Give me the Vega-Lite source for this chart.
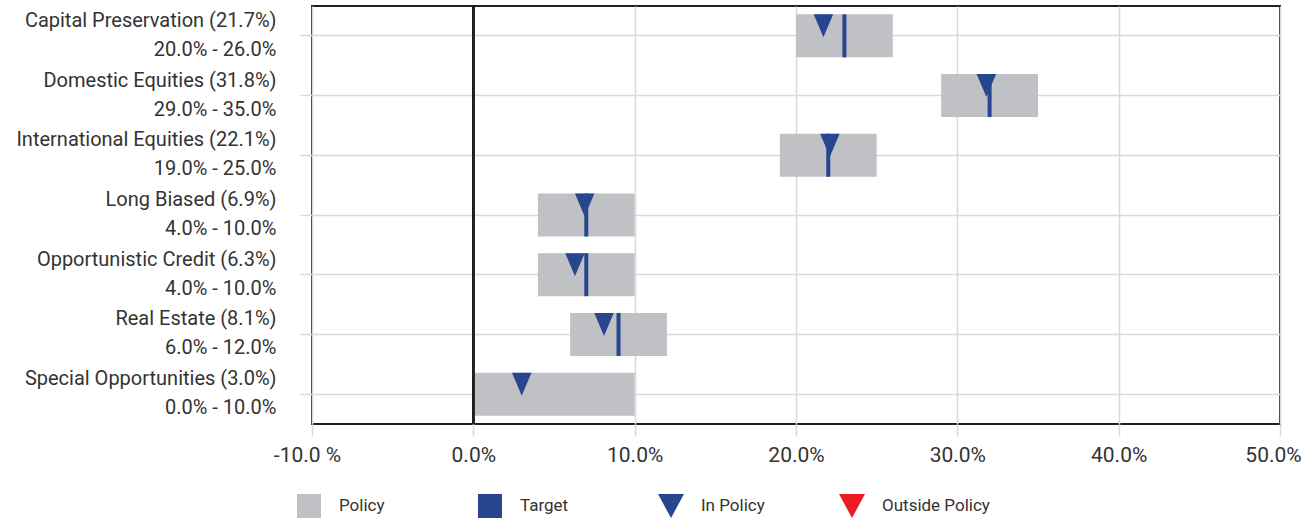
{
  "$schema": "https://vega.github.io/schema/vega-lite/v6.json",
  "width": 968,
  "height": 418,
  "autosize": {"type": "none"},
  "padding": {"left": 312, "top": 6, "right": 23, "bottom": 94},
  "background": "white",
  "config": {
    "font": "Roboto",
    "view": {"stroke": "#231f20", "strokeWidth": 2},
    "axis": {
      "labelFont": "Roboto",
      "labelColor": "#333333",
      "gridColor": "#d9d9d9",
      "gridWidth": 1.5,
      "tickColor": "#d9d9d9",
      "tickWidth": 1.5,
      "domain": false
    }
  },
  "data": {
    "values": [
      {"label": "Capital Preservation (21.7%)\u00a0|20.0% - 26.0%", "min": 20, "max": 26, "target": 23, "actual": 21.7, "status": "In Policy"},
      {"label": "Domestic Equities (31.8%)\u00a0|29.0% - 35.0%", "min": 29, "max": 35, "target": 32, "actual": 31.8, "status": "In Policy"},
      {"label": "International Equities (22.1%)\u00a0|19.0% - 25.0%", "min": 19, "max": 25, "target": 22, "actual": 22.1, "status": "In Policy"},
      {"label": "Long Biased (6.9%)\u00a0|4.0% - 10.0%", "min": 4, "max": 10, "target": 7, "actual": 6.9, "status": "In Policy"},
      {"label": "Opportunistic Credit (6.3%)\u00a0|4.0% - 10.0%", "min": 4, "max": 10, "target": 7, "actual": 6.3, "status": "In Policy"},
      {"label": "Real Estate (8.1%)\u00a0|6.0% - 12.0%", "min": 6, "max": 12, "target": 9, "actual": 8.1, "status": "In Policy"},
      {"label": "Special Opportunities (3.0%)\u00a0|0.0% - 10.0%", "min": 0, "max": 10, "target": null, "actual": 3.0, "status": "In Policy"}
    ]
  },
  "layer": [
    {
      "mark": {"type": "bar", "size": 43},
      "encoding": {
        "y": {
          "field": "label", "type": "nominal", "sort": null,
          "scale": {"paddingInner": 0, "paddingOuter": 0},
          "axis": {
            "title": null,
            "labelExpr": "split(datum.value, '|')",
            "labelLineHeight": 29,
            "labelFontSize": 20,
            "labelAlign": "right",
            "labelBaseline": "middle",
            "labelOffset": -15,
            "tickSize": 12,
            "labelPadding": 24,
            "labelLimit": 400,
            "grid": true,
            "bandPosition": 0.5
          }
        },
        "x": {
          "field": "min", "type": "quantitative",
          "scale": {"domain": [-10, 50], "nice": false, "zero": false},
          "axis": {
            "title": null,
            "values": [-10, 0, 10, 20, 30, 40, 50],
            "labelExpr": "datum.value < 0 ? '-' + format(-datum.value, '.1f') + ' %' : format(datum.value, '.1f') + '%'",
            "labelFontSize": 21,
            "tickSize": 12,
            "labelPadding": 8,
            "labelFlush": false,
            "labelOffset": {"expr": "datum.value == 50 ? -7 : (datum.value == -10 ? -5 : 0)"},
            "grid": true
          }
        },
        "x2": {"field": "max"},
        "color": {
          "datum": "Policy", "type": "nominal",
          "scale": {
            "domain": ["Policy", "Target", "In Policy", "Outside Policy"],
            "range": ["#c0c1c5", "#28468f", "#28468f", "#ed1c24"]
          }
        }
      }
    },
    {
      "mark": {"type": "tick", "size": 43, "thickness": 4, "opacity": 1},
      "encoding": {
        "y": {"field": "label", "type": "nominal", "sort": null},
        "x": {"field": "target", "type": "quantitative"},
        "color": {"datum": "Target", "type": "nominal"}
      }
    },
    {
      "mark": {"type": "point", "filled": true, "opacity": 1, "size": 380, "shape": "M-1,-1.18L1,-1.18L0,1.18Z", "yOffset": -10, "strokeWidth": 0},
      "encoding": {
        "y": {"field": "label", "type": "nominal", "sort": null},
        "x": {"field": "actual", "type": "quantitative"},
        "color": {
          "field": "status", "type": "nominal",
          "legend": {
            "title": null,
            "orient": "none",
            "legendX": -16,
            "legendY": 487,
            "direction": "horizontal",
            "columns": 4,
            "gridAlign": "all",
            "columnPadding": 30,
            "symbolSize": 676,
            "symbolType": "square",
            "labelFontSize": 17,
            "labelFont": "Roboto",
            "labelColor": "#333333",
            "labelOffset": 17,
            "labelLimit": 300,
            "padding": 0,
            "symbolStrokeWidth": 0,
            "symbolOpacity": 1,
            "encode": {
              "symbols": {
                "update": {
                  "shape": {"signal": "datum.value == 'Policy' || datum.value == 'Target' ? 'square' : 'M-1,-0.92L1,-0.92L0,0.92Z'"},
                  "size": {"signal": "datum.value == 'Policy' || datum.value == 'Target' ? 576 : 676"},
                  "fill": {"scale": "color", "field": "value"},
                  "stroke": {"value": "transparent"},
                  "opacity": {"value": 1}
                }
              }
            }
          }
        }
      }
    },
    {
      "mark": {"type": "rule", "color": "#231f20", "strokeWidth": 2},
      "encoding": {"x": {"datum": 0}}
    }
  ]
}
